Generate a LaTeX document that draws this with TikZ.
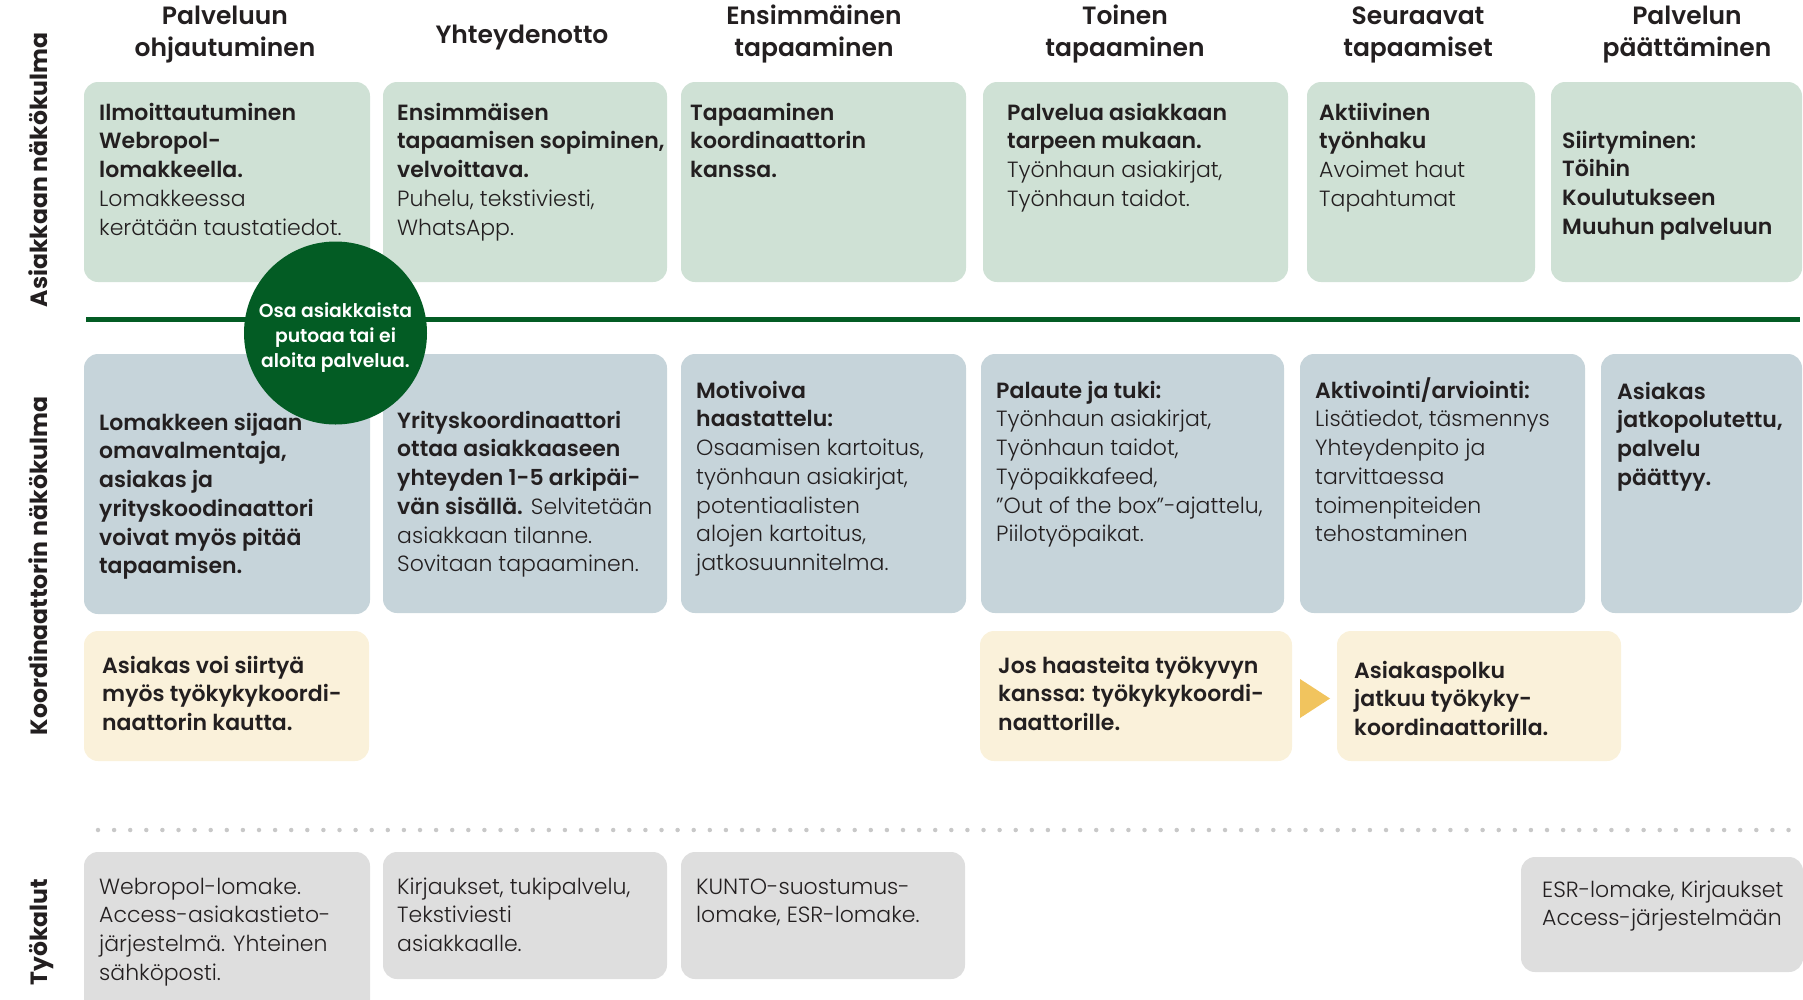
\documentclass[tikz,border=0pt]{standalone}
\usepackage{fontspec}
\setmainfont{Poppins}[UprightFont={* Light},BoldFont={* SemiBold}]
\newfontfamily\labfont{Poppins}[UprightFont={* Bold}]
\definecolor{cgreen}{HTML}{CFE1D5}
\definecolor{cblue}{HTML}{C6D4DA}
\definecolor{cyellow}{HTML}{FAF1DA}
\definecolor{cgrey}{HTML}{DEDEDE}
\definecolor{dkgreen}{HTML}{035C24}
\definecolor{cgold}{HTML}{F1C45E}
\definecolor{ctext}{HTML}{231F20}
\definecolor{cdot}{HTML}{C8C8C8}
\newcommand\fs{\rule{0pt}{22pt}}
\tikzset{
  panel/.style={rounded corners=14pt},
  txt/.style={anchor=north west, inner sep=0pt, align=left, text=ctext, font=\fontsize{22}{28.75}\selectfont},
  head/.style={anchor=north, inner sep=0pt, align=center, text=ctext, font=\bfseries\fontsize{25}{32}\selectfont},
  side/.style={rotate=90, anchor=base, inner sep=0pt, text=ctext, font=\labfont\fontsize{23.5}{30}\selectfont},
}
\begin{document}
\begin{tikzpicture}[x=1pt,y=-1pt]
\useasboundingbox (0,0) rectangle (1803,999);
\clip (0,0) rectangle (1803,999);
% side labels
\node[side] (l1) at (47,170) {Asiakkaan näkökulma};
\node[side] (l2) at (47,566) {Koordinaattorin näkökulma};
\node[side] (l3) at (47,932) {Työkalut};
% headers
\node[head] (h1) at (225,2) {\fs Palveluun\\ohjautuminen};
\node[head,anchor=base] (h2) at (522,43) {Yhteydenotto};
\node[head] (h3) at (814,2) {\fs Ensimmäinen\\tapaaminen};
\node[head] (h4) at (1125,2) {\fs Toinen\\tapaaminen};
\node[head] (h5) at (1418,2) {\fs Seuraavat\\tapaamiset};
\node[head] (h6) at (1687,2) {\fs Palvelun\\päättäminen};
% top row
\fill[cgreen,panel] (84,82) rectangle (370,282);
\fill[cgreen,panel] (383,82) rectangle (667,282);
\fill[cgreen,panel] (681,82) rectangle (966,282);
\fill[cgreen,panel] (983,82) rectangle (1288,282);
\fill[cgreen,panel] (1307,82) rectangle (1535,282);
\fill[cgreen,panel] (1551,82) rectangle (1802,282);
\node[txt] (a1) at (99,98) {\fs\textbf{Ilmoittautuminen}\\\textbf{Webropol-}\\\textbf{lomakkeella.}\\Lomakkeessa\\kerätään taustatiedot.};
\node[txt] (a2) at (397,98) {\fs\textbf{Ensimmäisen}\\\textbf{tapaamisen sopiminen,}\\\textbf{velvoittava.}\\Puhelu, tekstiviesti,\\WhatsApp.};
\node[txt] (a3) at (690,98) {\fs\textbf{Tapaaminen}\\\textbf{koordinaattorin}\\\textbf{kanssa.}};
\node[txt] (a4) at (1007,98) {\fs\textbf{Palvelua asiakkaan}\\\textbf{tarpeen mukaan.}\\Työnhaun asiakirjat,\\Työnhaun taidot.};
\node[txt] (a5) at (1319,98) {\fs\textbf{Aktiivinen}\\\textbf{työnhaku}\\Avoimet haut\\Tapahtumat};
\node[txt] (a6) at (1562,126) {\fs\textbf{Siirtyminen:}\\\textbf{Töihin}\\\textbf{Koulutukseen}\\\textbf{Muuhun palveluun}};
% green line
\draw[dkgreen,line width=5pt] (86,319.5) -- (1800,319.5);
% middle row
\fill[cblue,panel] (84,354) rectangle (370,614);
\fill[cblue,panel] (383,354) rectangle (667,613);
\fill[cblue,panel] (681,354) rectangle (966,613);
\fill[cblue,panel] (981,354) rectangle (1284,613);
\fill[cblue,panel] (1300,354) rectangle (1585,613);
\fill[cblue,panel] (1601,354) rectangle (1802,613);
\node[txt] (k1) at (99,408) {\fs\textbf{Lomakkeen sijaan}\\\textbf{omavalmentaja,}\\\textbf{asiakas ja}\\\textbf{yrityskoodinaattori}\\\textbf{voivat myös pitää}\\\textbf{tapaamisen.}};
\node[txt] (k2) at (397,406) {\fs\textbf{Yrityskoordinaattori}\\\textbf{ottaa asiakkaaseen}\\\textbf{yhteyden 1-5 arkipäi-}\\\textbf{vän sisällä.} Selvitetään\\asiakkaan tilanne.\\Sovitaan tapaaminen.};
\node[txt] (k3) at (696,376) {\fs\textbf{Motivoiva}\\\textbf{haastattelu:}\\Osaamisen kartoitus,\\työnhaun asiakirjat,\\potentiaalisten\\alojen kartoitus,\\jatkosuunnitelma.};
\node[txt] (k4) at (996,376) {\fs\textbf{Palaute ja tuki:}\\Työnhaun asiakirjat,\\Työnhaun taidot,\\Työpaikkafeed,\\”Out of the box”-ajattelu,\\Piilotyöpaikat.};
\node[txt] (k5) at (1315,376) {\fs\textbf{Aktivointi/arviointi:}\\Lisätiedot, täsmennys\\Yhteydenpito ja\\tarvittaessa\\toimenpiteiden\\tehostaminen};
\node[txt] (k6) at (1617,377) {\fs\textbf{Asiakas}\\\textbf{jatkopolutettu,}\\\textbf{palvelu}\\\textbf{päättyy.}};
% drop-out circle
\node[circle,fill=dkgreen,minimum size=183pt,inner sep=0pt] (drop) at (335.5,333) {};
\node[inner sep=0pt,text=white,align=center,font=\bfseries\fontsize{18.8}{25.3}\selectfont] (droptxt) at ([yshift=-4.5pt]drop.center) {Osa asiakkaista\\putoaa tai ei\\aloita palvelua.};
% yellow row
\fill[cyellow,panel] (84,631) rectangle (369,761);
\fill[cyellow,panel] (980,631) rectangle (1292,761);
\fill[cyellow,panel] (1337,631) rectangle (1621,761);
\node[txt] (y1) at (102,651) {\fs\textbf{Asiakas voi siirtyä}\\\textbf{myös työkykykoordi-}\\\textbf{naattorin kautta.}};
\node[txt] (y2) at (998,651) {\fs\textbf{Jos haasteita työkyvyn}\\\textbf{kanssa: työkykykoordi-}\\\textbf{naattorille.}};
\node[txt] (y3) at (1354,656) {\fs\textbf{Asiakaspolku}\\\textbf{jatkuu työkyky-}\\\textbf{koordinaattorilla.}};
\fill[cgold] (1300,679) -- (1330,698.5) -- (1300,718) -- cycle;
% dotted separator
\draw[cdot,line width=4.5pt,line cap=round,dash pattern=on 0pt off 16.1pt] (98,830) -- (1790,830);
% tools row
\fill[cgrey,panel] (84,852) rectangle (370,1030);
\fill[cgrey,panel] (383,852) rectangle (667,979);
\fill[cgrey,panel] (681,852) rectangle (965,979);
\fill[cgrey,panel] (1521,857) rectangle (1803,972);
\node[txt] (g1) at (99,872) {\fs Webropol-lomake.\\Access-asiakastieto-\\järjestelmä. Yhteinen\\sähköposti.};
\node[txt] (g2) at (397,872) {\fs Kirjaukset, tukipalvelu,\\Tekstiviesti\\asiakkaalle.};
\node[txt] (g3) at (696,872) {\fs KUNTO-suostumus-\\lomake, ESR-lomake.};
\node[txt] (g4) at (1542,875) {\fs ESR-lomake, Kirjaukset\\Access-järjestelmään};
\end{tikzpicture}
\end{document}
